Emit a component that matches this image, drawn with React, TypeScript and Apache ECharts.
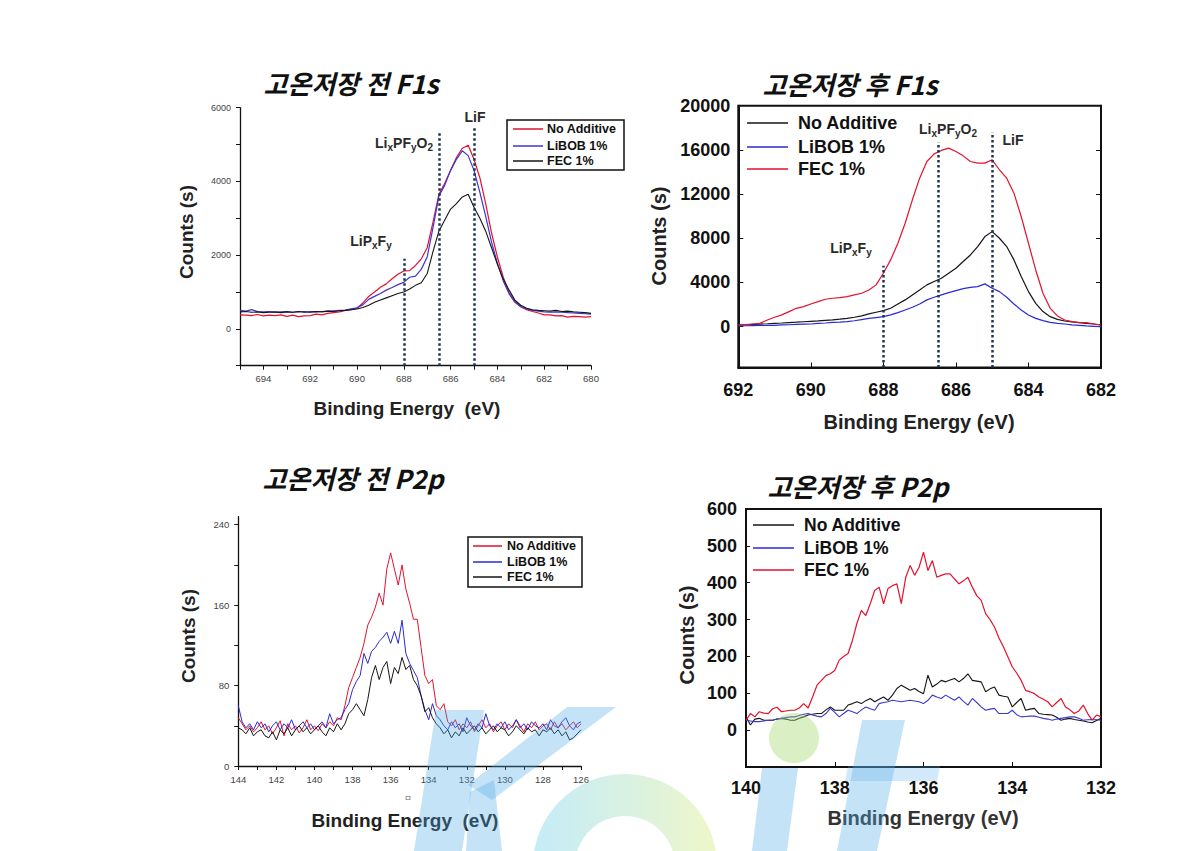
import React, { useEffect, useRef } from "react";
import * as echarts from "echarts";

// ---------- sampling grids (binding energy, eV) ----------
const range = (start: number, end: number, step: number) => {
  const n = Math.round(Math.abs(end - start) / step) + 1;
  return Array.from({ length: n }, (_, i) => +(start - i * step).toFixed(2));
};
const f1sBeforeEnergy = range(695, 680, 0.25);
const f1sAfterEnergy = range(692, 682, 0.2);
const p2pBeforeEnergy = range(144, 126, 0.2);
const p2pAfterEnergy = range(140, 132, 0.1);

// ---------- F1s before storage ----------
const f1sBeforeNoAdditive = [
  380, 370, 360, 390, 350, 370, 360, 380, 340, 370,
  330, 350, 360, 400, 380, 420, 440, 460, 500, 520,
  560, 700, 880, 1000, 1130, 1220, 1360, 1480, 1570, 1580,
  1720, 1900, 2200, 2900, 3650, 3950, 4300, 4650, 4900, 4980,
  4600, 4100, 3400, 2600, 1950, 1400, 980, 750, 600, 520,
  470, 430, 380, 380, 350, 360, 320, 340, 330, 320,
  330,
];
const f1sBeforeLiBOB = [
  500, 480, 520, 470, 460, 470, 450, 460, 470, 450,
  460, 470, 450, 460, 470, 480, 490, 500, 510, 540,
  570, 650, 800, 880, 960, 1050, 1120, 1200, 1260, 1400,
  1430, 1620, 1950, 2750, 3600, 3900, 4300, 4600, 4830, 4700,
  4300, 3700, 3050, 2350, 1780, 1300, 950, 720, 600, 540,
  500, 480, 460, 450, 460, 450, 440, 430, 420, 410,
  400,
];
const f1sBeforeFEC = [
  460, 470, 450, 460, 440, 450, 460, 440, 460, 450,
  470, 450, 460, 470, 460, 480, 470, 490, 500, 520,
  540, 580, 640, 720, 780, 840, 900, 960, 1000, 1080,
  1180, 1250, 1500, 2100, 2650, 2950, 3250, 3400, 3580, 3650,
  3300, 3000, 2650, 2200, 1750, 1350, 1050, 780, 640, 560,
  520, 500, 490, 480, 500, 470, 480, 460, 450, 440,
  420,
];

// ---------- F1s after storage ----------
const f1sAfterNoAdditive = [
  150, 170, 200, 230, 260, 300, 330, 370, 400, 440,
  480, 520, 570, 620, 680, 750, 850, 980, 1150, 1300,
  1450, 1660, 2050, 2420, 2870, 3320, 3780, 4080, 4380, 4830,
  5290, 5890, 6490, 7250, 8150, 8600, 8000, 7250, 6040, 4530,
  3170, 2110, 1360, 900, 660, 510, 430, 360, 300, 240,
  150,
];
const f1sAfterLiBOB = [
  60, 80, 90, 100, 110, 120, 150, 170, 200, 220,
  240, 290, 330, 380, 410, 450, 530, 640, 740, 820,
  900, 1060, 1270, 1510, 1750, 2050, 2420, 2660, 2870, 3080,
  3260, 3440, 3560, 3620, 3870, 3470, 3170, 2660, 2050, 1510,
  1060, 750, 540, 390, 300, 240, 160, 110, 60, 30,
  0,
];
const f1sAfterFEC = [
  150, 180, 240, 300, 600, 850, 1060, 1360, 1660, 1810,
  2050, 2260, 2480, 2570, 2630, 2720, 2870, 3020, 3320, 3780,
  4830, 6040, 7550, 9360, 11480, 13440, 14950, 15640, 15950, 16160,
  15850, 15460, 14950, 14800, 14800, 15100, 14200, 13440, 12080, 9970,
  7550, 5130, 3020, 1660, 970, 600, 450, 360, 360, 240,
  150,
];

// ---------- P2p before storage ----------
const p2pBeforeNoAdditive = [
  48, 42, 36, 40, 34, 38, 44, 36, 40, 32,
  38, 45, 30, 42, 36, 40, 33, 38, 46, 36,
  40, 35, 42, 38, 44, 40, 48, 46, 60, 78,
  88, 98, 108, 122, 140, 148, 158, 172, 160, 196,
  212, 196, 180, 200, 176, 162, 146, 146, 118, 90,
  82, 86, 60, 56, 62, 44, 40, 46, 36, 42,
  38, 44, 34, 40, 46, 38, 42, 34, 40, 44,
  36, 42, 38, 46, 40, 34, 42, 38, 44, 36,
  40, 42, 36, 44, 38, 42, 36, 40, 44, 38,
  42,
];
const p2pBeforeLiBOB = [
  60, 44, 38, 42, 36, 44, 38, 42, 34, 40,
  44, 36, 42, 38, 46, 36, 40, 44, 38, 42,
  36, 40, 44, 38, 52, 42, 46, 48, 56, 62,
  76, 84, 90, 112, 102, 114, 118, 124, 128, 133,
  122, 134, 122, 145, 112, 102, 95, 88, 70, 56,
  46, 62, 50, 46, 40, 36, 44, 38, 42, 34,
  48, 40, 36, 42, 38, 52, 40, 36, 42, 38,
  44, 36, 40, 46, 38, 42, 36, 44, 40, 38,
  42, 36, 46, 40, 38, 44, 48, 40, 36, 42,
  44,
];
const p2pBeforeFEC = [
  38, 36, 32, 38, 30, 34, 36, 30, 28, 34,
  26, 36, 32, 38, 30, 36, 40, 34, 38, 32,
  36, 40, 34, 30, 38, 34, 42, 36, 42, 52,
  56, 62, 56, 50, 66, 88, 100, 86, 98, 104,
  82, 98, 92, 108, 96, 100, 86, 80, 70, 54,
  58, 48, 42, 38, 32, 36, 28, 34, 30, 38,
  32, 36, 40, 34, 38, 32, 36, 40, 34, 38,
  36, 30, 34, 40, 36, 32, 38, 34, 36, 30,
  36, 34, 38, 32, 36, 30, 34, 26, 28, 32,
  36,
];

// ---------- P2p after storage ----------
const p2pAfterNoAdditive = [
  36, 14, 30, 32, 27, 27, 27, 30, 32, 30,
  27, 27, 32, 36, 41, 43, 45, 45, 55, 63,
  54, 54, 54, 68, 72, 77, 72, 80, 86, 77,
  84, 90, 81, 95, 113, 122, 115, 108, 113, 105,
  99, 149, 117, 125, 135, 131, 136, 140, 131, 140,
  153, 135, 133, 131, 104, 112, 117, 95, 92, 90,
  63, 75, 86, 54, 57, 59, 45, 43, 42, 41,
  35, 27, 30, 32, 29, 27, 25, 22, 20, 26,
  32,
];
const p2pAfterLiBOB = [
  27, 25, 23, 23, 25, 27, 27, 30, 32, 34,
  36, 36, 40, 43, 45, 41, 38, 36, 45, 59,
  48, 36, 45, 54, 50, 45, 55, 63, 58, 54,
  72, 75, 77, 81, 79, 77, 79, 81, 79, 77,
  72, 81, 95, 90, 86, 95, 88, 81, 90, 78,
  68, 86, 75, 63, 54, 57, 59, 45, 45, 45,
  54, 42, 36, 37, 38, 38, 35, 32, 30, 27,
  30, 32, 34, 36, 36, 32, 27, 28, 29, 28,
  27,
];
const p2pAfterFEC = [
  27, 45, 36, 50, 46, 45, 58, 62, 50, 52,
  54, 54, 60, 72, 60, 90, 122, 135, 148, 153,
  162, 190, 200, 208, 244, 290, 325, 311, 343, 379,
  388, 343, 384, 392, 397, 343, 415, 447, 420, 442,
  483, 433, 460, 415, 420, 424, 424, 410, 397, 405,
  415, 388, 365, 352, 316, 300, 280, 250, 226, 199,
  172, 155, 135, 108, 104, 99, 90, 84, 77, 63,
  75, 86, 63, 55, 45, 52, 68, 45, 27, 41,
  36,
];

// ---------- peak markers ----------
const markerEnergies = [688, 686.5, 685];
const f1sBeforeMarkerTops = [1900, 5350, 5450];
const f1sAfterMarkerTops = [5500, 16700, 17600];

// ---------- tick values ----------
const f1sBeforeXLabels = [680, 682, 684, 686, 688, 690, 692, 694];
const f1sBeforeXTicks = range(695, 680, 1);
const f1sBeforeYLabels = [0, 2000, 4000, 6000];
const f1sBeforeYTicks = [-1000, 0, 1000, 2000, 3000, 4000, 5000, 6000];
const f1sAfterXLabels = [682, 684, 686, 688, 690, 692];
const f1sAfterYLabels = [0, 4000, 8000, 12000, 16000, 20000];
const p2pBeforeXLabels = [126, 128, 130, 132, 134, 136, 138, 140, 142, 144];
const p2pBeforeXTicks = range(144, 126, 1);
const p2pBeforeYLabels = [0, 80, 160, 240];
const p2pBeforeYTicks = [0, 40, 80, 120, 160, 200, 240];
const p2pAfterXLabels = [132, 134, 136, 138, 140];
const p2pAfterYLabels = [0, 100, 200, 300, 400, 500, 600];

const seriesNames = ["No Additive", "LiBOB 1%", "FEC 1%"];

const LAT = '"Liberation Sans", Arial, Helvetica, sans-serif';
const KR = '"Noto Sans CJK KR", "Noto Sans", sans-serif';

const RED = "#e3122d";
const BLUE = "#2a2ad8";
const PURPLE_BLUE = "#3d34d6";
const BLACK = "#151515";
const WM_BLUE = "rgba(80,170,230,0.33)";

const pairs = (xs: number[], ys: number[]) => xs.map((x, i) => [x, ys[i]]);

function line(name: string, xs: number[], ys: number[], idx: number, color: string, width = 1.1, extra: any = {}) {
  return {
    type: "line",
    name,
    xAxisIndex: idx,
    yAxisIndex: idx,
    data: pairs(xs, ys),
    showSymbol: false,
    symbol: "none",
    silent: true,
    lineStyle: { color, width },
    itemStyle: { color },
    emphasis: { disabled: true },
    z: 3,
    ...extra,
  };
}

function markers(tops: number[], bottom: number) {
  return {
    symbol: ["none", "none"],
    silent: true,
    animation: false,
    label: { show: false },
    emphasis: { disabled: true },
    lineStyle: { color: "#1d3352", width: 2.5, type: [2.4, 2.6] },
    data: markerEnergies.map((e, i) => [{ coord: [e, bottom] }, { coord: [e, tops[i]] }]),
  };
}

function text(x: number, y: number, t: string, size: number, opts: any = {}) {
  return {
    type: "text",
    x,
    y,
    silent: true,
    z: 10,
    ...(opts.rotation ? { rotation: opts.rotation } : {}),
    style: {
      text: t,
      fontFamily: opts.family || LAT,
      fontSize: size,
      fontWeight: opts.weight || "bold",
      fontStyle: opts.style || "normal",
      fill: opts.fill || "#111",
      align: opts.align || "center",
      verticalAlign: "middle",
    },
  };
}

function chemText(x: number, y: number, parts: [string, boolean][], main: number, sub: number) {
  const str = parts.map(([t, s]) => `{${s ? "s" : "a"}|${t}}`).join("");
  return {
    type: "text",
    x,
    y,
    silent: true,
    z: 10,
    style: {
      text: str,
      align: "center",
      verticalAlign: "middle",
      rich: {
        a: { fontFamily: LAT, fontSize: main, fontWeight: "bold", fill: "#2a2a2a", lineHeight: 18, verticalAlign: "middle" },
        s: { fontFamily: LAT, fontSize: sub, fontWeight: "bold", fill: "#2a2a2a", lineHeight: 9, verticalAlign: "bottom" },
      },
    },
  };
}

function legendLine(x1: number, x2: number, y: number, color: string, w = 1.5) {
  return { type: "line", silent: true, z: 10, shape: { x1, y1: y, x2, y2: y }, style: { stroke: color, lineWidth: w } };
}

function valueAxis(gridIndex: number, min: number, max: number, o: any) {
  return {
    type: "value",
    gridIndex,
    min,
    max,
    inverse: !!o.inverse,
    position: o.position,
    axisLine: { show: true, onZero: false, lineStyle: { color: "#111", width: o.lineWidth || 1.3 } },
    axisTick: {
      show: o.ticks !== false,
      inside: !!o.inside,
      length: o.tickLen || 4,
      customValues: o.ticks || undefined,
      lineStyle: { color: "#111", width: o.tickWidth || 1 },
    },
    axisLabel: o.labels
      ? {
          show: true,
          customValues: o.labels,
          formatter: (v: number) => String(v),
          fontFamily: LAT,
          fontSize: o.fontSize,
          fontWeight: o.bold ? "bold" : "normal",
          color: o.labelColor || "#111",
          margin: o.margin,
        }
      : { show: false },
    splitLine: { show: false },
    minorTick: { show: false },
    axisPointer: { show: false },
  };
}

export default function App() {
  const ref = useRef<HTMLDivElement>(null);

  useEffect(() => {
    document.body.style.margin = "0";
    const chart = echarts.init(ref.current!, null, { renderer: "svg" });

    const legendNames = seriesNames;
    const graphic: any[] = [
      // titles
      text(351, 82, "고온저장 전 F1s", 26, { family: KR, style: "italic" }),
      text(850, 83, "고온저장 후 F1s", 26, { family: KR, style: "italic" }),
      text(353, 477, "고온저장 전 P2p", 26, { family: KR, style: "italic" }),
      text(858, 485, "고온저장 후 P2p", 26, { family: KR, style: "italic" }),
      // y axis names
      text(186, 232, "Counts (s)", 19, { rotation: Math.PI / 2, fill: "#222" }),
      text(659, 236, "Counts (s)", 20, { rotation: Math.PI / 2, fill: "#222" }),
      text(188, 636, "Counts (s)", 19, { rotation: Math.PI / 2, fill: "#222" }),
      text(687, 635, "Counts (s)", 20, { rotation: Math.PI / 2, fill: "#222" }),
      // x axis names
      text(407, 408, "Binding Energy  (eV)", 19, { fill: "#222" }),
      text(919, 422, "Binding Energy (eV)", 20, { fill: "#222" }),
      text(405, 820, "Binding Energy  (eV)", 19, { fill: "#222" }),
      text(923, 818, "Binding Energy (eV)", 20, { fill: "#333" }),
      text(408, 797, "ㅁ", 8, { family: KR, weight: "normal", fill: "#666" }),
      // F1s before annotations
      text(475, 117, "LiF", 14, { fill: "#2a2a2a" }),
      chemText(404, 143, [["Li", false], ["x", true], ["PF", false], ["y", true], ["O", false], ["2", true]], 14, 10),
      chemText(371, 241, [["LiP", false], ["x", true], ["F", false], ["y", true]], 14, 10),
      // F1s after annotations
      text(1013, 140, "LiF", 14, { fill: "#2a2a2a" }),
      chemText(948, 129, [["Li", false], ["x", true], ["PF", false], ["y", true], ["O", false], ["2", true]], 14, 10),
      chemText(851, 248, [["LiP", false], ["x", true], ["F", false], ["y", true]], 14, 10),
      // legend: F1s before (boxed)
      { type: "rect", silent: true, z: 9, shape: { x: 507, y: 120, width: 117, height: 50 }, style: { fill: "#fff", stroke: "#111", lineWidth: 1.5 } },
      legendLine(513, 543, 129, RED),
      legendLine(513, 543, 146, PURPLE_BLUE),
      legendLine(513, 543, 161, BLACK),
      text(547, 129, legendNames[0], 12.5, { align: "left" }),
      text(547, 146, legendNames[1], 12.5, { align: "left" }),
      text(547, 161, legendNames[2], 12.5, { align: "left" }),
      // legend: F1s after
      legendLine(747, 788, 123, BLACK),
      legendLine(747, 788, 147, BLUE),
      legendLine(747, 788, 169, RED),
      text(798, 123, legendNames[0], 18, { align: "left" }),
      text(798, 147, legendNames[1], 18, { align: "left" }),
      text(798, 169, legendNames[2], 18, { align: "left" }),
      // legend: P2p before (boxed)
      { type: "rect", silent: true, z: 9, shape: { x: 468, y: 537, width: 114, height: 50 }, style: { fill: "#fff", stroke: "#111", lineWidth: 1.5 } },
      legendLine(473, 502, 546, RED),
      legendLine(473, 502, 562, BLUE),
      legendLine(473, 502, 577, BLACK),
      text(507, 546, legendNames[0], 12.5, { align: "left" }),
      text(507, 562, legendNames[1], 12.5, { align: "left" }),
      text(507, 577, legendNames[2], 12.5, { align: "left" }),
      // legend: P2p after
      legendLine(753, 794, 525, BLACK),
      legendLine(753, 794, 548, BLUE),
      legendLine(753, 794, 570, RED),
      text(804, 525, legendNames[0], 17.5, { align: "left" }),
      text(804, 548, legendNames[1], 17.5, { align: "left" }),
      text(804, 570, legendNames[2], 17.5, { align: "left" }),
      // watermark (approximate)
      { type: "polygon", silent: true, z: 50, shape: { points: [[436, 710], [484, 710], [462, 851], [414, 851]] }, style: { fill: WM_BLUE } },
      { type: "polygon", silent: true, z: 50, shape: { points: [[567, 707], [616, 707], [492, 800], [468, 785]] }, style: { fill: WM_BLUE } },
      { type: "polygon", silent: true, z: 50, shape: { points: [[470, 792], [494, 780], [502, 851], [466, 851]] }, style: { fill: WM_BLUE } },
      {
        type: "sector", silent: true, z: 50,
        shape: { cx: 625, cy: 866, r: 92, r0: 50, startAngle: Math.PI, endAngle: Math.PI * 2 },
        style: {
          fill: new echarts.graphic.LinearGradient(0, 0, 1, 0, [
            { offset: 0, color: "rgba(90,200,235,0.35)" },
            { offset: 1, color: "rgba(215,235,120,0.4)" },
          ]),
        },
      },
      { type: "circle", silent: true, z: 50, shape: { cx: 794, cy: 738, r: 25 }, style: { fill: "rgba(165,215,110,0.4)" } },
      { type: "polygon", silent: true, z: 50, shape: { points: [[762, 768], [798, 768], [787, 851], [752, 851]] }, style: { fill: WM_BLUE } },
      { type: "polygon", silent: true, z: 50, shape: { points: [[862, 720], [905, 720], [877, 851], [837, 851]] }, style: { fill: WM_BLUE } },
      { type: "polygon", silent: true, z: 50, shape: { points: [[848, 766], [940, 766], [937, 781], [845, 781]] }, style: { fill: "rgba(80,170,230,0.26)" } },
    ];

    const option: any = {
      animation: false,
      backgroundColor: "#ffffff",
      grid: [
        { left: 240, top: 107.7, width: 351, height: 258, outerBoundsMode: "none", containLabel: false },
        { left: 738.3, top: 105.7, width: 362.7, height: 261.8, show: true, borderColor: "#111", borderWidth: 2, backgroundColor: "transparent", outerBoundsMode: "none", containLabel: false },
        { left: 238.3, top: 516.7, width: 342.7, height: 249.3, outerBoundsMode: "none", containLabel: false },
        { left: 746, top: 509, width: 355, height: 258, show: true, borderColor: "#111", borderWidth: 2, backgroundColor: "transparent", outerBoundsMode: "none", containLabel: false },
      ],
      xAxis: [
        valueAxis(0, 680, 695, { inverse: true, ticks: f1sBeforeXTicks, labels: f1sBeforeXLabels, fontSize: 9.5, labelColor: "#444", margin: 8 }),
        valueAxis(1, 682, 692, { inverse: true, ticks: f1sAfterXLabels, inside: true, tickLen: 5, labels: f1sAfterXLabels, fontSize: 18, bold: true, margin: 13, lineWidth: 2 }),
        valueAxis(2, 126, 144, { inverse: true, ticks: p2pBeforeXTicks, labels: p2pBeforeXLabels, fontSize: 9.5, labelColor: "#444", margin: 8 }),
        valueAxis(3, 132, 140, { inverse: true, ticks: p2pAfterXLabels, inside: true, tickLen: 5, labels: p2pAfterXLabels, fontSize: 18, bold: true, margin: 12, lineWidth: 2 }),
      ],
      yAxis: [
        valueAxis(0, -1000, 6000, { ticks: f1sBeforeYTicks, labels: f1sBeforeYLabels, fontSize: 9, labelColor: "#444", margin: 9 }),
        valueAxis(1, -3700, 20000, { ticks: f1sAfterYLabels, inside: true, tickLen: 5, labels: f1sAfterYLabels, fontSize: 18, bold: true, margin: 8, lineWidth: 2 }),
        valueAxis(2, 0, 248, { ticks: p2pBeforeYTicks, labels: p2pBeforeYLabels, fontSize: 9.5, labelColor: "#444", margin: 9 }),
        valueAxis(3, -100, 600, { ticks: p2pAfterYLabels, inside: true, tickLen: 4, labels: p2pAfterYLabels, fontSize: 18, bold: true, margin: 9, lineWidth: 2 }),
        valueAxis(1, -3700, 20000, { position: "right", ticks: f1sAfterYLabels, inside: true, tickLen: 5, lineWidth: 2 }),
      ],
      series: [
        line(seriesNames[0], f1sBeforeEnergy, f1sBeforeNoAdditive, 0, RED, 1.2, { markLine: markers(f1sBeforeMarkerTops, -1000) }),
        line(seriesNames[1], f1sBeforeEnergy, f1sBeforeLiBOB, 0, PURPLE_BLUE, 1.2),
        line(seriesNames[2], f1sBeforeEnergy, f1sBeforeFEC, 0, BLACK, 1.1),

        line(seriesNames[0], f1sAfterEnergy, f1sAfterNoAdditive, 1, BLACK, 1.2, { markLine: markers(f1sAfterMarkerTops, -3700) }),
        line(seriesNames[1], f1sAfterEnergy, f1sAfterLiBOB, 1, BLUE, 1.2),
        line(seriesNames[2], f1sAfterEnergy, f1sAfterFEC, 1, RED, 1.2),

        line(seriesNames[0], p2pBeforeEnergy, p2pBeforeNoAdditive, 2, RED, 1),
        line(seriesNames[1], p2pBeforeEnergy, p2pBeforeLiBOB, 2, BLUE, 1),
        line(seriesNames[2], p2pBeforeEnergy, p2pBeforeFEC, 2, BLACK, 1),

        line(seriesNames[0], p2pAfterEnergy, p2pAfterNoAdditive, 3, BLACK, 1.1),
        line(seriesNames[1], p2pAfterEnergy, p2pAfterLiBOB, 3, "#3a3ad0", 1.1),
        line(seriesNames[2], p2pAfterEnergy, p2pAfterFEC, 3, RED, 1.2),
      ],
      graphic,
    };

    chart.setOption(option);
    return () => chart.dispose();
  }, []);

  return <div ref={ref} style={{ width: 1194, height: 851, background: "#fff" }} />;
}
